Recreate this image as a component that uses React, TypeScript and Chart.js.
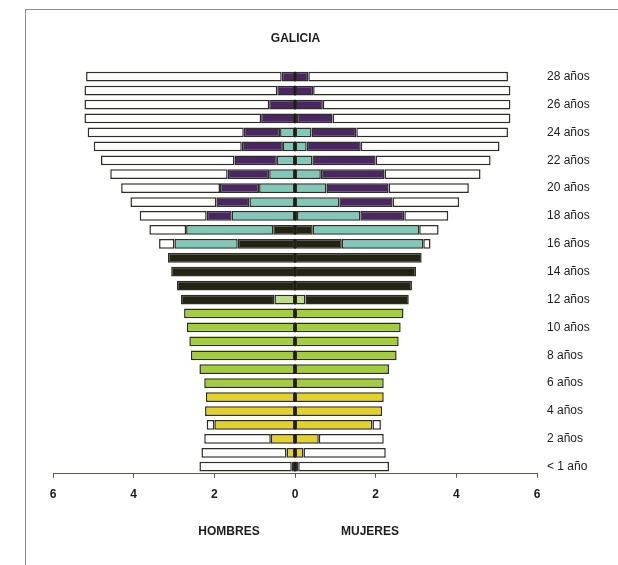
import React, { useEffect, useRef } from "react";
import { Chart, registerables } from "chart.js";

Chart.register(...registerables);

// Ages from < 1 año (index 0) to 28 años (index 28)
const AGES = [
  "< 1 año", "1 año", "2 años", "3 años", "4 años", "5 años", "6 años", "7 años",
  "8 años", "9 años", "10 años", "11 años", "12 años", "13 años", "14 años",
  "15 años", "16 años", "17 años", "18 años", "19 años", "20 años", "21 años",
  "22 años", "23 años", "24 años", "25 años", "26 años", "27 años", "28 años",
];

const X_TICKS = [-6, -4, -2, 0, 2, 4, 6];

// Percentages per age (index = age). Hombres shown to the left.
const INFANTIL_H = [0.08, 0.21, 0.6, 2.0, 2.23, 2.21, 0, 0, 0, 0, 0, 0, 0, 0, 0, 0, 0, 0, 0, 0, 0, 0, 0, 0, 0, 0, 0, 0, 0];
const INFANTIL_M = [0.08, 0.21, 0.59, 1.92, 2.16, 2.2, 0, 0, 0, 0, 0, 0, 0, 0, 0, 0, 0, 0, 0, 0, 0, 0, 0, 0, 0, 0, 0, 0, 0];

const PRIMARIA_H = [0, 0, 0, 0, 0, 0, 2.25, 2.37, 2.58, 2.62, 2.68, 2.75, 0, 0, 0, 0, 0, 0, 0, 0, 0, 0, 0, 0, 0, 0, 0, 0, 0];
const PRIMARIA_M = [0, 0, 0, 0, 0, 0, 2.2, 2.33, 2.52, 2.57, 2.62, 2.69, 0, 0, 0, 0, 0, 0, 0, 0, 0, 0, 0, 0, 0, 0, 0, 0, 0];

const PRIMARIA_B_H = [0, 0, 0, 0, 0, 0, 0, 0, 0, 0, 0, 0, 0.51, 0, 0, 0, 0, 0, 0, 0, 0, 0, 0, 0, 0, 0, 0, 0, 0];
const PRIMARIA_B_M = [0, 0, 0, 0, 0, 0, 0, 0, 0, 0, 0, 0, 0.26, 0, 0, 0, 0, 0, 0, 0, 0, 0, 0, 0, 0, 0, 0, 0, 0];

const ESO_H = [0, 0, 0, 0, 0, 0, 0, 0, 0, 0, 0, 0, 2.32, 2.93, 3.07, 3.15, 1.42, 0.54, 0, 0, 0, 0, 0, 0, 0, 0, 0, 0, 0];
const ESO_M = [0, 0, 0, 0, 0, 0, 0, 0, 0, 0, 0, 0, 2.56, 2.9, 3.0, 3.14, 1.16, 0.44, 0.05, 0, 0, 0, 0, 0, 0, 0, 0, 0, 0];

const BACH_H = [0, 0, 0, 0, 0, 0, 0, 0, 0, 0, 0, 0, 0, 0, 0, 0, 1.57, 2.16, 1.57, 1.13, 0.89, 0.64, 0.45, 0.3, 0.37, 0, 0, 0, 0];
const BACH_M = [0, 0, 0, 0, 0, 0, 0, 0, 0, 0, 0, 0, 0, 0, 0, 0, 2.02, 2.64, 1.57, 1.1, 0.78, 0.64, 0.43, 0.29, 0.41, 0.05, 0, 0, 0];

const UNIV_H = [0, 0, 0, 0, 0, 0, 0, 0, 0, 0, 0, 0, 0, 0, 0, 0, 0, 0, 0.62, 0.82, 0.97, 1.03, 1.05, 1.02, 0.9, 0.84, 0.64, 0.44, 0.33];
const UNIV_M = [0, 0, 0, 0, 0, 0, 0, 0, 0, 0, 0, 0, 0, 0, 0, 0, 0, 0, 1.09, 1.32, 1.54, 1.58, 1.57, 1.34, 1.11, 0.88, 0.69, 0.45, 0.33];

const NO_ESTUDIA_H = [2.29, 2.11, 1.65, 0.19, 0, 0, 0, 0, 0, 0, 0, 0, 0, 0, 0, 0, 0.38, 0.91, 1.66, 2.13, 2.45, 2.91, 3.31, 3.67, 3.87, 4.38, 4.58, 4.78, 4.85];
const NO_ESTUDIA_M = [2.25, 2.04, 1.61, 0.21, 0, 0, 0, 0, 0, 0, 0, 0, 0, 0, 0, 0, 0.18, 0.48, 1.09, 1.65, 1.99, 2.38, 2.85, 3.44, 3.76, 4.41, 4.65, 4.89, 4.95];

const FONT = "'Liberation Sans', Arial, sans-serif";
const TEXT = "#1c1c1c";
const EDGE = "#2e2e26";

const centerLine = {
  id: "centerLine",
  afterDatasetsDraw(chart: any) {
    const ctx = chart.ctx;
    const x = Math.round(chart.scales.x.getPixelForValue(0));
    const n = chart.data.labels.length;
    ctx.save();
    ctx.strokeStyle = "#1e1e16";
    ctx.lineWidth = 2;
    for (let i = 0; i < n; i++) {
      for (let d = 0; d < chart.data.datasets.length; d++) {
        const el = chart.getDatasetMeta(d).data[i];
        if (el && chart.data.datasets[d].data[i] != null) {
          const h = el.height;
          ctx.beginPath();
          ctx.moveTo(x, el.y - h / 2);
          ctx.lineTo(x, el.y + h / 2);
          ctx.stroke();
          break;
        }
      }
    }
    ctx.restore();
  },
};

export default function App() {
  const ref = useRef<HTMLCanvasElement>(null);

  useEffect(() => {
    if (!ref.current) return;
    const series = [
      { name: "Infantil", color: "#e5d226", h: INFANTIL_H, m: INFANTIL_M },
      { name: "Primaria", color: "#a3cc3f", h: PRIMARIA_H, m: PRIMARIA_M },
      { name: "Primaria (b)", color: "#bcdf8e", h: PRIMARIA_B_H, m: PRIMARIA_B_M },
      { name: "ESO", color: "#232414", h: ESO_H, m: ESO_M },
      { name: "Bachillerato", color: "#80c9b9", h: BACH_H, m: BACH_M },
      { name: "Universidad", color: "#4a2663", h: UNIV_H, m: UNIV_M },
      { name: "No estudia", color: "#fdfdfd", h: NO_ESTUDIA_H, m: NO_ESTUDIA_M },
    ];
    const datasets: any[] = [];
    for (const s of series) {
      const common = {
        backgroundColor: s.color,
        borderColor: EDGE,
        borderWidth: 1.5,
        borderSkipped: false,
        inflateAmount: 0,
        barPercentage: 0.7,
        categoryPercentage: 1,
        stack: "p",
      };
      datasets.push({ ...common, label: s.name + " hombres", data: s.h.map((v) => (v ? -v : null)) });
      datasets.push({ ...common, label: s.name + " mujeres", data: s.m.map((v) => (v ? v : null)) });
    }

    const chart = new Chart(ref.current, {
      type: "bar",
      data: { labels: AGES, datasets },
      plugins: [centerLine],
      options: {
        indexAxis: "y",
        animation: false,
        responsive: true,
        maintainAspectRatio: false,
        layout: { padding: { top: 69.7, left: 53, right: 0, bottom: 0 } },
        plugins: { legend: { display: false }, tooltip: { enabled: false }, title: { display: false } },
        scales: {
          x: {
            type: "linear",
            min: X_TICKS[0],
            max: X_TICKS[X_TICKS.length - 1],
            stacked: true,
            afterBuildTicks: (s: any) => {
              s.ticks = X_TICKS.map((v) => ({ value: v }));
            },
            ticks: {
              callback: (v: any) => String(Math.abs(Number(v))),
              color: TEXT,
              font: { family: FONT, size: 12, weight: "bold" },
              padding: 10,
              maxRotation: 0,
            },
            grid: { display: true, drawOnChartArea: false, drawTicks: true, tickLength: 4, color: "#5a5a50" },
            border: { display: true, color: "#5a5a50", width: 1 },
            afterFit: (s: any) => {
              s.height = 91.3;
            },
          },
          y: {
            type: "category",
            reverse: true,
            stacked: true,
            position: "right",
            ticks: {
              autoSkip: false,
              callback: (v: any) => (Number(v) % 2 === 0 ? AGES[Number(v)] : ""),
              color: TEXT,
              font: { family: FONT, size: 12 },
              padding: 10,
            },
            grid: { display: false, drawTicks: false },
            border: { display: false },
            afterFit: (s: any) => {
              s.width = 81;
            },
          },
        },
      } as any,
    });
    return () => chart.destroy();
  }, []);

  const label = (text: string, x: number, y: number, size: number) => (
    <div
      style={{
        position: "absolute",
        left: x,
        top: y,
        transform: "translate(-50%, -50%)",
        fontFamily: FONT,
        fontWeight: "bold",
        fontSize: size,
        color: TEXT,
        whiteSpace: "nowrap",
      }}
    >
      {text}
    </div>
  );

  return (
    <div style={{ position: "fixed", left: 0, top: 0, width: 618, height: 565, background: "#fff", overflow: "hidden" }}>
      <div
        style={{
          position: "absolute",
          left: 25,
          top: 9,
          width: 620,
          height: 600,
          borderLeft: "1px solid #8c8c8c",
          borderTop: "1px solid #8c8c8c",
        }}
      />
      <div style={{ position: "absolute", left: 0, top: 0, width: 618, height: 565 }}>
        <canvas ref={ref} />
      </div>
      {label("GALICIA", 295.5, 38, 12)}
      {label("HOMBRES", 229, 531, 12)}
      {label("MUJERES", 370, 531, 12)}
    </div>
  );
}
